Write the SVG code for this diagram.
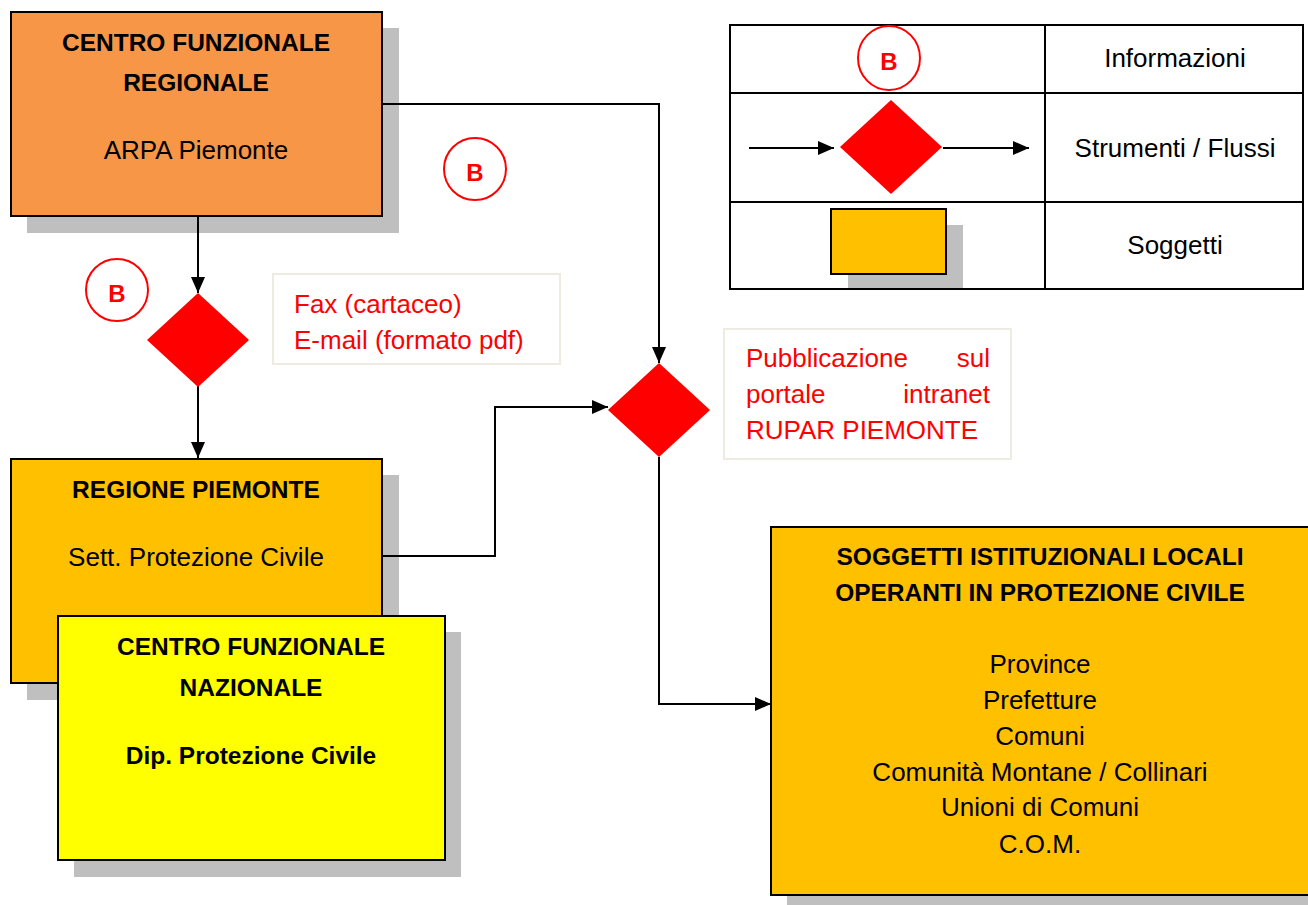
<svg xmlns="http://www.w3.org/2000/svg" width="1308" height="905" viewBox="0 0 1308 905">
<defs>
<style>
.t{font-family:"Liberation Sans",Arial,sans-serif;font-size:26px;fill:#000}
.b{font-family:"Liberation Sans",Arial,sans-serif;font-size:24.5px;font-weight:bold;fill:#000}
.r{font-family:"Liberation Sans",Arial,sans-serif;font-size:26px;fill:#FF0000}
.bl{font-family:"Liberation Sans",Arial,sans-serif;font-size:24px;font-weight:bold;fill:#FF0000}
.c{text-anchor:middle}
.sh{fill:#BFBFBF}
.box{stroke:#000;stroke-width:2}
.dia{fill:#FF0000}
.circ{fill:#fff;stroke:#FF0000;stroke-width:2}
.note{fill:#fff;stroke:#EEECE1;stroke-width:2}
.ln{fill:none;stroke:#000;stroke-width:2}
.grid{fill:none;stroke:#000;stroke-width:2}
</style>
<marker id="ah" markerUnits="userSpaceOnUse" markerWidth="16" markerHeight="14" refX="16" refY="7" orient="auto">
<path d="M0,0 L16,7 L0,14 z" fill="#000"/>
</marker>
</defs>
<rect width="1308" height="905" fill="#fff"/>

<g id="legend">
<rect x="848" y="225" width="115" height="64" class="sh"/>
<rect x="831" y="209" width="115" height="65" fill="#FFC000" class="box"/>
<rect x="730" y="25" width="573" height="264" class="grid"/>
<line x1="1045" y1="25" x2="1045" y2="289" class="grid"/>
<line x1="730" y1="93" x2="1303" y2="93" class="grid"/>
<line x1="730" y1="202" x2="1303" y2="202" class="grid"/>
<ellipse cx="889" cy="58" rx="31" ry="32" class="circ"/>
<text x="889" y="70" class="bl c">B</text>
<polygon points="891,100 942,147 891,194 840,147" class="dia"/>
<line x1="749" y1="148" x2="834" y2="148" class="ln" marker-end="url(#ah)"/>
<line x1="943" y1="148" x2="1029" y2="148" class="ln" marker-end="url(#ah)"/>
<text x="1175" y="67" class="t c">Informazioni</text>
<text x="1175" y="157" class="t c">Strumenti / Flussi</text>
<text x="1175" y="254" class="t c">Soggetti</text>
</g>

<g id="cfr">
<rect x="27" y="28" width="372" height="205" class="sh"/>
<rect x="11" y="12" width="371" height="204" fill="#F79646" class="box"/>
<text x="196" y="51" class="b c">CENTRO FUNZIONALE</text>
<text x="196" y="91" class="b c">REGIONALE</text>
<text x="196" y="159" class="t c">ARPA Piemonte</text>
</g>

<g id="regione">
<rect x="27" y="475" width="372" height="225" class="sh"/>
<rect x="11" y="459" width="371" height="224" fill="#FFC000" class="box"/>
<text x="196" y="498" class="b c">REGIONE PIEMONTE</text>
<text x="196" y="566" class="t c">Sett. Protezione Civile</text>
</g>

<g id="cfn">
<rect x="74" y="632" width="387" height="245" class="sh"/>
<rect x="58" y="616" width="387" height="244" fill="#FFFF00" class="box"/>
<text x="251" y="655" class="b c">CENTRO FUNZIONALE</text>
<text x="251" y="696" class="b c">NAZIONALE</text>
<text x="251" y="764" class="b c">Dip. Protezione Civile</text>
</g>

<g id="soggetti">
<rect x="787" y="543" width="545" height="370" class="sh"/>
<rect x="771" y="527" width="545" height="368" fill="#FFC000" class="box"/>
<text x="1040" y="565" class="b c">SOGGETTI ISTITUZIONALI LOCALI</text>
<text x="1040" y="601" class="b c">OPERANTI IN PROTEZIONE CIVILE</text>
<text x="1040" y="673" class="t c">Province</text>
<text x="1040" y="709" class="t c">Prefetture</text>
<text x="1040" y="745" class="t c">Comuni</text>
<text x="1040" y="781" class="t c">Comunità Montane / Collinari</text>
<text x="1040" y="816" class="t c">Unioni di Comuni</text>
<text x="1040" y="853" class="t c">C.O.M.</text>
</g>

<g id="connectors">
<line x1="198" y1="217" x2="198" y2="293" class="ln" marker-end="url(#ah)"/>
<line x1="198" y1="386" x2="198" y2="458" class="ln" marker-end="url(#ah)"/>
<polyline points="383,104 659,104 659,363" class="ln" marker-end="url(#ah)"/>
<polyline points="383,556 495,556 495,407 608,407" class="ln" marker-end="url(#ah)"/>
<polyline points="659,457 659,704 771,704" class="ln" marker-end="url(#ah)"/>
</g>

<g id="diamond1">
<polygon points="198,293 249,340 198,387 147,340" class="dia"/>
</g>
<g id="diamond2">
<polygon points="659,363 710,410 659,457 608,410" class="dia"/>
</g>

<g id="infoB1">
<circle cx="117" cy="290" r="31" class="circ"/>
<text x="117" y="302" class="bl c">B</text>
</g>
<g id="infoB2">
<circle cx="475" cy="169" r="31" class="circ"/>
<text x="475" y="181" class="bl c">B</text>
</g>

<g id="note-fax">
<rect x="273" y="274" width="287" height="90" class="note"/>
<text x="294" y="313" class="r">Fax (cartaceo)</text>
<text x="294" y="349" class="r">E-mail (formato pdf)</text>
</g>

<g id="note-rupar">
<rect x="724" y="329" width="287" height="130" class="note"/>
<text x="746" y="367" class="r">Pubblicazione</text>
<text x="990" y="367" class="r" text-anchor="end">sul</text>
<text x="746" y="403" class="r">portale</text>
<text x="990" y="403" class="r" text-anchor="end">intranet</text>
<text x="746" y="439" class="r">RUPAR PIEMONTE</text>
</g>
</svg>
